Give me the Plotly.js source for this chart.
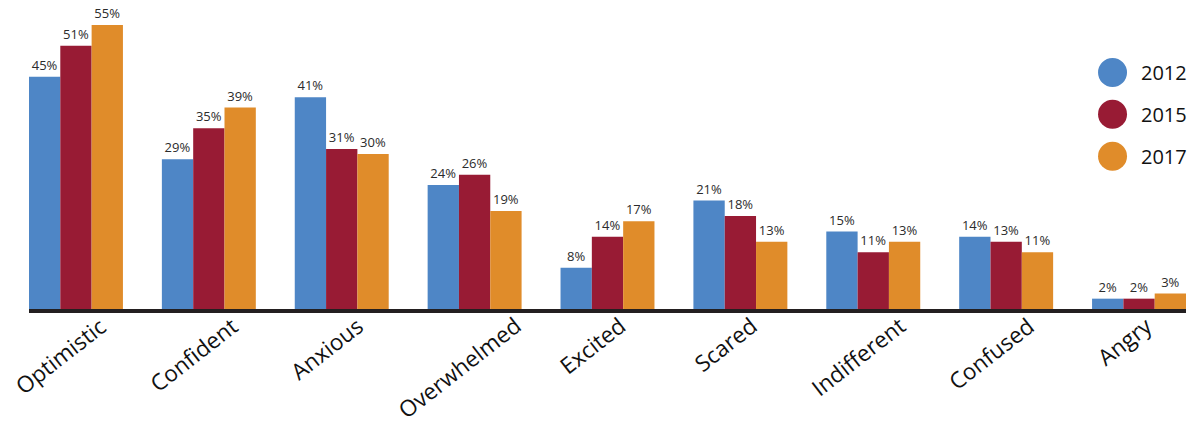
<!DOCTYPE html>
<html>
<head>
<meta charset="utf-8">
<script src="https://cdn.plot.ly/plotly-3.0.1.min.js"></script>
<style>
  html, body { margin: 0; padding: 0; background: #ffffff; }
  #chart { width: 1200px; height: 429px; }
</style>
</head>
<body>
<div id="chart"></div>
<script>
// Feelings reported, by survey year (percent of respondents)
const categories = ["Optimistic", "Confident", "Anxious", "Overwhelmed", "Excited",
                    "Scared", "Indifferent", "Confused", "Angry"];
const years = ["2012", "2015", "2017"];
const values2012 = [45, 29, 41, 24, 8, 21, 15, 14, 2];
const values2015 = [51, 35, 31, 26, 14, 18, 11, 13, 2];
const values2017 = [55, 39, 30, 19, 17, 13, 13, 11, 3];
const colors = ["#4E86C6", "#981B34", "#E08C2A"];

const series = [values2012, values2015, values2017];

const traces = series.map((vals, i) => ({
  type: "bar",
  name: years[i],
  x: categories,
  y: vals,
  marker: { color: colors[i], line: { width: 0 } },
  text: vals.map(v => v + "%"),
  texttemplate: "%{text}",
  textposition: "outside",
  cliponaxis: false,
  textfont: { family: "Open Sans, sans-serif", size: 13, color: "#2b2b2b" },
  hoverinfo: "x+y+name",
  showlegend: false
}));

// Custom legend: large round swatches with year labels
const legendX = 0.9365;   // paper x of swatch centres
const legendY = [0.765, 0.63, 0.494];
const shapes = years.map((y, i) => ({
  type: "circle",
  xref: "paper", yref: "paper",
  xsizemode: "pixel", ysizemode: "pixel",
  xanchor: legendX, yanchor: legendY[i],
  x0: -14.5, x1: 14.5, y0: -14.5, y1: 14.5,
  fillcolor: colors[i],
  line: { width: 0 }
}));
const legendLabels = years.map((y, i) => ({
  xref: "paper", yref: "paper",
  x: legendX, y: legendY[i],
  xshift: 26,
  xanchor: "left", yanchor: "middle",
  text: y,
  showarrow: false,
  font: { family: "Open Sans, sans-serif", size: 20, color: "#111111" }
}));

// Slanted category labels under each bar group
const categoryLabels = categories.map(c => ({
  xref: "x", yref: "paper",
  x: c, y: 0,
  yshift: 0,
  xshift: -15,
  xanchor: "center", yanchor: "top",
  textangle: -38,
  text: c,
  showarrow: false,
  borderpad: 0,
  font: { family: "Open Sans, sans-serif", size: 22.5, color: "#111111" }
}));

const layout = {
  width: 1200,
  height: 429,
  margin: { l: 29, r: 14, t: 0, b: 120 },
  paper_bgcolor: "#ffffff",
  plot_bgcolor: "#ffffff",
  barmode: "group",
  bargap: 0.293,
  bargroupgap: 0,
  showlegend: false,
  xaxis: {
    type: "category",
    range: [-0.3534, 8.3534],
    showline: true,
    linecolor: "#231F20",
    linewidth: 4,
    showgrid: false,
    zeroline: false,
    ticks: "",
    showticklabels: false,
    fixedrange: true
  },
  yaxis: {
    range: [0, 59.84],
    visible: false,
    showgrid: false,
    zeroline: false,
    fixedrange: true
  },
  shapes: shapes,
  annotations: legendLabels.concat(categoryLabels)
};

Plotly.newPlot("chart", traces, layout, { displayModeBar: false, staticPlot: true });
</script>
</body>
</html>
